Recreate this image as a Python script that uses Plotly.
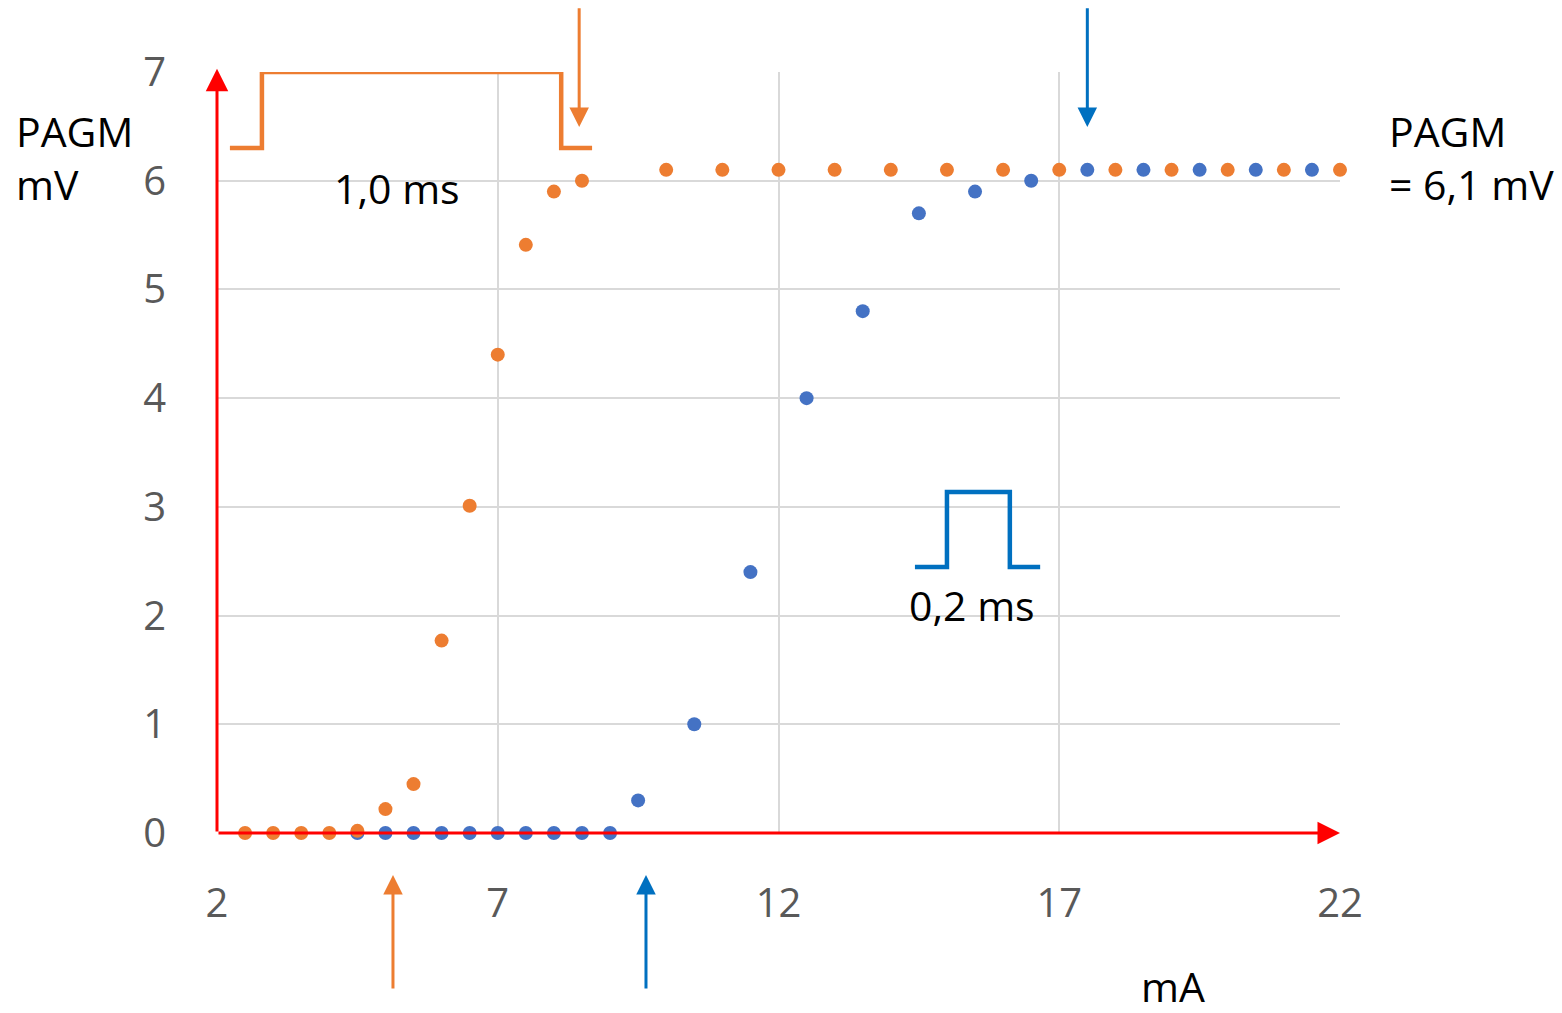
import plotly.graph_objects as go

# Data
orange_x = [2.5, 3.0, 3.5, 4.0, 4.5, 5.0, 5.5, 6.0, 6.5, 7.0, 7.5, 8.0, 8.5,
            10, 11, 12, 13, 14, 15, 16, 17, 18, 19, 20, 21, 22]
orange_y = [0, 0, 0, 0, 0.02, 0.22, 0.45, 1.77, 3.01, 4.4, 5.41, 5.9, 6.0,
            6.1, 6.1, 6.1, 6.1, 6.1, 6.1, 6.1, 6.1, 6.1, 6.1, 6.1, 6.1, 6.1]
blue_x = [4.5, 5.0, 5.5, 6.0, 6.5, 7.0, 7.5, 8.0, 8.5, 9.0,
          9.5, 10.5, 11.5, 12.5, 13.5, 14.5, 15.5, 16.5, 17.5, 18.5, 19.5, 20.5, 21.5]
blue_y = [0, 0, 0, 0, 0, 0, 0, 0, 0, 0,
          0.3, 1.0, 2.4, 4.0, 4.8, 5.7, 5.9, 6.0, 6.1, 6.1, 6.1, 6.1, 6.1]
x_ticks = [2, 7, 12, 17, 22]
y_ticks = [0, 1, 2, 3, 4, 5, 6, 7]

ORANGE = "#ED7D31"
BLUE = "#4472C4"
DBLUE = "#0070C0"
RED = "#FF0000"
FONT = "Open Sans"

fig = go.Figure()
fig.add_trace(go.Scatter(x=blue_x, y=blue_y, mode="markers",
                         marker=dict(color=BLUE, size=14), cliponaxis=False,
                         showlegend=False))
fig.add_trace(go.Scatter(x=orange_x, y=orange_y, mode="markers",
                         marker=dict(color=ORANGE, size=14), cliponaxis=False,
                         showlegend=False))

# Pulse shapes
fig.add_shape(type="path", xref="x", yref="y",
              path="M 2.23 6.30 L 2.80 6.30 L 2.80 7.0 L 8.13 7.0 L 8.13 6.30 L 8.68 6.30",
              line=dict(color=ORANGE, width=4.5))
fig.add_shape(type="path", xref="x", yref="y",
              path="M 14.43 2.447 L 15.0 2.447 L 15.0 3.137 L 16.12 3.137 L 16.12 2.447 L 16.66 2.447",
              line=dict(color=DBLUE, width=4.5))

anns = []
# Red axes with arrows
anns.append(dict(x=2, y=7.03, ax=2, ay=0, xref="x", yref="y", axref="x", ayref="y",
                 showarrow=True, arrowhead=2, arrowsize=1.5, arrowwidth=3,
                 arrowcolor=RED, text=""))
anns.append(dict(x=22, y=0, ax=2, ay=0, xref="x", yref="y", axref="x", ayref="y",
                 showarrow=True, arrowhead=2, arrowsize=1.5, arrowwidth=3,
                 arrowcolor=RED, text=""))
# Marker arrows (top)
anns.append(dict(x=8.45, y=6.495, ax=8.45, ay=7.6, xref="x", yref="y", axref="x", ayref="y",
                 showarrow=True, arrowhead=2, arrowsize=1.3, arrowwidth=3,
                 arrowcolor=ORANGE, text=""))
anns.append(dict(x=17.5, y=6.495, ax=17.5, ay=7.6, xref="x", yref="y", axref="x", ayref="y",
                 showarrow=True, arrowhead=2, arrowsize=1.3, arrowwidth=3,
                 arrowcolor=DBLUE, text=""))
# Marker arrows (bottom, below the axis -> paper coordinates)
anns.append(dict(x=0.1567, y=-0.0552, ax=0, ay=115, xref="paper", yref="paper",
                 axref="pixel", ayref="pixel",
                 showarrow=True, arrowhead=2, arrowsize=1.3, arrowwidth=3,
                 arrowcolor=ORANGE, text=""))
anns.append(dict(x=0.3820, y=-0.0552, ax=0, ay=115, xref="paper", yref="paper",
                 axref="pixel", ayref="pixel",
                 showarrow=True, arrowhead=2, arrowsize=1.3, arrowwidth=3,
                 arrowcolor=DBLUE, text=""))
# Text
tfont = dict(family=FONT, size=41, color="black")
anns.append(dict(x=5.2, y=5.93, xref="x", yref="y", text="1,0 ms", showarrow=False,
                 font=tfont, xanchor="center", yanchor="middle"))
anns.append(dict(x=15.45, y=2.10, xref="x", yref="y", text="0,2 ms", showarrow=False,
                 font=tfont, xanchor="center", yanchor="middle"))
anns.append(dict(x=-0.1808, y=0.887, xref="paper", yref="paper", text="PAGM<br>mV",
                 showarrow=False, font=tfont, xanchor="left", yanchor="middle", align="left"))
anns.append(dict(x=1.0419, y=0.887, xref="paper", yref="paper", text="PAGM<br>= 6,1 mV",
                 showarrow=False, font=tfont, xanchor="left", yanchor="middle", align="left"))
anns.append(dict(x=0.8513, y=-0.201, xref="paper", yref="paper", text="mA",
                 showarrow=False, font=tfont, xanchor="center", yanchor="middle"))

fig.update_layout(
    width=1562, height=1013,
    margin=dict(l=217, r=222, t=72, b=180),
    paper_bgcolor="white", plot_bgcolor="white",
    annotations=anns,
    xaxis=dict(range=[2, 22], tickvals=x_ticks, showgrid=True, gridcolor="#D9D9D9",
               gridwidth=1.5, zeroline=False, showline=False, ticks="",
               tickfont=dict(family=FONT, size=40, color="#595959"),
               ticklabelstandoff=43),
    yaxis=dict(range=[0, 7], tickvals=y_ticks, showgrid=True, gridcolor="#D9D9D9",
               gridwidth=1.5, zeroline=False, showline=False, ticks="",
               tickfont=dict(family=FONT, size=40, color="#595959"),
               ticklabelstandoff=50),
)

fig.write_html("out.html")
